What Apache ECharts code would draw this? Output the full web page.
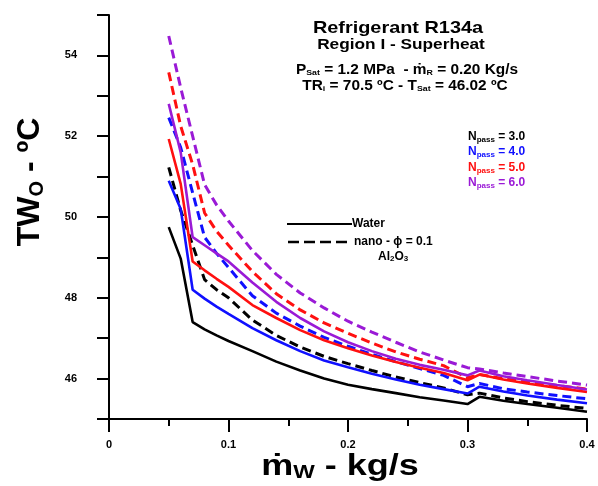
<!DOCTYPE html>
<html>
<head>
<meta charset="utf-8">
<script src="https://cdn.jsdelivr.net/npm/echarts@6/dist/echarts.min.js"></script>
<style>html,body{margin:0;padding:0;background:#fff;}#c{width:598px;height:486px;}</style>
</head>
<body>
<div id="c"></div>
<script>
// ---- data ----
const xValues = [0.05,0.06,0.07,0.08,0.09,0.1,0.12,0.14,0.16,0.18,0.2,0.22,0.24,0.26,0.28,0.3,0.31,0.33,0.35,0.375,0.4];
const water_N3 = [49.75,48.97,47.40,47.22,47.07,46.93,46.68,46.42,46.2,46.0,45.85,45.74,45.64,45.54,45.46,45.37,45.55,45.45,45.37,45.28,45.18];
const water_N4 = [50.9,50.2,48.2,47.98,47.78,47.6,47.25,46.95,46.68,46.45,46.28,46.12,45.98,45.85,45.74,45.63,45.8,45.68,45.58,45.48,45.39];
const water_N5 = [51.93,50.82,48.9,48.68,48.47,48.27,47.82,47.5,47.2,46.95,46.75,46.57,46.41,46.27,46.14,45.96,46.1,45.98,45.88,45.77,45.67];
const water_N6 = [52.8,51.6,49.5,49.3,49.1,48.9,48.38,47.9,47.5,47.17,46.9,46.68,46.49,46.34,46.22,46.08,46.2,46.06,45.96,45.84,45.73];
const nano_N3 = [51.23,50.16,49.3,48.45,48.2,48.0,47.45,47.07,46.78,46.55,46.37,46.2,46.04,45.9,45.77,45.6,45.64,45.52,45.43,45.34,45.26];
const nano_N4 = [52.46,51.72,50.6,49.5,49.1,48.75,48.05,47.62,47.3,47.02,46.8,46.6,46.42,46.25,46.08,45.8,45.88,45.75,45.67,45.58,45.5];
const nano_N5 = [53.58,52.25,51.3,50.1,49.65,49.3,48.65,48.1,47.7,47.38,47.12,46.88,46.66,46.48,46.32,46.02,46.1,46.0,45.92,45.83,45.74];
const nano_N6 = [54.48,53.2,52.0,50.8,50.3,49.9,49.17,48.58,48.12,47.75,47.42,47.15,46.9,46.66,46.46,46.27,46.24,46.14,46.05,45.94,45.84];
const xTicks = [0, 0.1, 0.2, 0.3, 0.4];
const yTicks = [46, 48, 50, 52, 54];

const colors = {N3:'#000000', N4:'#1010ff', N5:'#ff1010', N6:'#9a1ad6'};
const FONT = '"Liberation Sans", Arial, sans-serif';

function pairs(ys){ return xValues.map((x,i)=>[x, ys[i]]); }
function mk(name, ys, color, dashed){
  return {
    name, type:'line', data: pairs(ys), symbol:'none', smooth:false,
    lineStyle:{color, width: dashed?3:2.6, type: dashed?[9,5]:'solid'},
    itemStyle:{color}, animation:false, z: dashed?3:4
  };
}

const chart = echarts.init(document.getElementById('c'), null, {renderer:'canvas'});
const sub = (fs, pad) => ({fontSize: fs, fontWeight:'bold', fontFamily: FONT, padding:[pad,0,0,0], verticalAlign:'bottom'});

chart.setOption({
  animation:false,
  backgroundColor:'#fff',
  grid:{left:109, right:11, top:15, bottom:67, containLabel:false},
  xAxis:{
    type:'value', min:0, max:0.4, interval:0.1,
    axisLine:{show:true, onZero:false, lineStyle:{color:'#000', width:2}},
    axisTick:{show:true, length:13, lineStyle:{color:'#000', width:2}},
    minorTick:{show:true, splitNumber:2, length:7, lineStyle:{color:'#000', width:2}},
    splitLine:{show:false}, minorSplitLine:{show:false},
    axisLabel:{margin:20, color:'#000', fontSize:11, fontWeight:'bold', fontFamily:FONT,
      formatter:v=> xTicks.some(t=>Math.abs(t-v)<1e-9) ? String(Math.round(v*10)/10) : ''}
  },
  yAxis:{
    type:'value', min:45, max:55, interval:1,
    axisLine:{show:true, onZero:false, lineStyle:{color:'#000', width:2}},
    axisTick:{show:true, length:12, lineStyle:{color:'#000', width:2}},
    splitLine:{show:false},
    axisLabel:{margin:32, color:'#000', fontSize:11, fontWeight:'bold', fontFamily:FONT,
      formatter:v=> yTicks.indexOf(Math.round(v))>=0 && Math.abs(v-Math.round(v))<1e-9 ? String(v) : ''}
  },
  series:[
    mk('nano N3', nano_N3, colors.N3, true),
    mk('nano N4', nano_N4, colors.N4, true),
    mk('nano N5', nano_N5, colors.N5, true),
    mk('nano N6', nano_N6, colors.N6, true),
    mk('water N3', water_N3, colors.N3, false),
    mk('water N4', water_N4, colors.N4, false),
    mk('water N5', water_N5, colors.N5, false),
    mk('water N6', water_N6, colors.N6, false)
  ],
  graphic:[
    {type:'text', x:398, y:28, scaleX:1.17, style:{text:'Refrigerant R134a', font:'bold 17px '+FONT, fill:'#000', align:'center', verticalAlign:'middle'}},
    {type:'text', x:401, y:45, scaleX:1.15, style:{text:'Region I - Superheat', font:'bold 15px '+FONT, fill:'#000', align:'center', verticalAlign:'middle'}},
    {type:'text', x:407, y:70, scaleX:1.1, style:{text:'P{s|Sat} = 1.2 MPa  - ṁ{s|R} = 0.20 Kg/s', font:'bold 14px '+FONT, fill:'#000', align:'center', verticalAlign:'middle',
      rich:{s:sub(8,5)}}},
    {type:'text', x:405, y:86, scaleX:1.1, style:{text:'TR{s|i} = 70.5 ºC - T{s|Sat} = 46.02 ºC', font:'bold 14px '+FONT, fill:'#000', align:'center', verticalAlign:'middle',
      rich:{s:sub(8,5)}}},
    {type:'text', x:468, y:137, style:{text:'N{s|pass} = 3.0', font:'bold 12px '+FONT, fill:colors.N3, align:'left', verticalAlign:'middle', rich:{s:sub(8,5)}}},
    {type:'text', x:468, y:152, style:{text:'N{s|pass} = 4.0', font:'bold 12px '+FONT, fill:colors.N4, align:'left', verticalAlign:'middle', rich:{s:sub(8,5)}}},
    {type:'text', x:468, y:168, style:{text:'N{s|pass} = 5.0', font:'bold 12px '+FONT, fill:colors.N5, align:'left', verticalAlign:'middle', rich:{s:sub(8,5)}}},
    {type:'text', x:468, y:183, style:{text:'N{s|pass} = 6.0', font:'bold 12px '+FONT, fill:colors.N6, align:'left', verticalAlign:'middle', rich:{s:sub(8,5)}}},
    {type:'line', shape:{x1:287, y1:224, x2:352, y2:224}, style:{stroke:'#000', lineWidth:2.2}},
    {type:'text', x:352, y:224, style:{text:'Water', font:'bold 12px '+FONT, fill:'#000', align:'left', verticalAlign:'middle'}},
    {type:'line', shape:{x1:288, y1:242, x2:350, y2:242}, style:{stroke:'#000', lineWidth:2.6, lineDash:[11,5]}},
    {type:'text', x:354, y:242, style:{text:'nano - ϕ = 0.1', font:'bold 12px '+FONT, fill:'#000', align:'left', verticalAlign:'middle'}},
    {type:'text', x:378, y:257, style:{text:'Al{s|2}O{s|3}', font:'bold 12px '+FONT, fill:'#000', align:'left', verticalAlign:'middle', rich:{s:sub(8,4)}}},
    {type:'text', x:30, y:182, rotation:Math.PI/2, style:{text:'TW{s|O} - ºC', font:'bold 32px '+FONT, fill:'#000', align:'center', verticalAlign:'middle',
      rich:{s:{fontSize:20, fontWeight:'bold', fontFamily:FONT, padding:[14,0,0,0], verticalAlign:'bottom'}}}},
    {type:'text', x:340, y:467, scaleX:1.2, style:{text:'ṁ{s|W} - kg/s', font:'bold 30px '+FONT, fill:'#000', align:'center', verticalAlign:'middle',
      rich:{s:{fontSize:19, fontWeight:'bold', fontFamily:FONT, padding:[12,0,0,0], verticalAlign:'bottom'}}}}
  ]
});
</script>
</body>
</html>
